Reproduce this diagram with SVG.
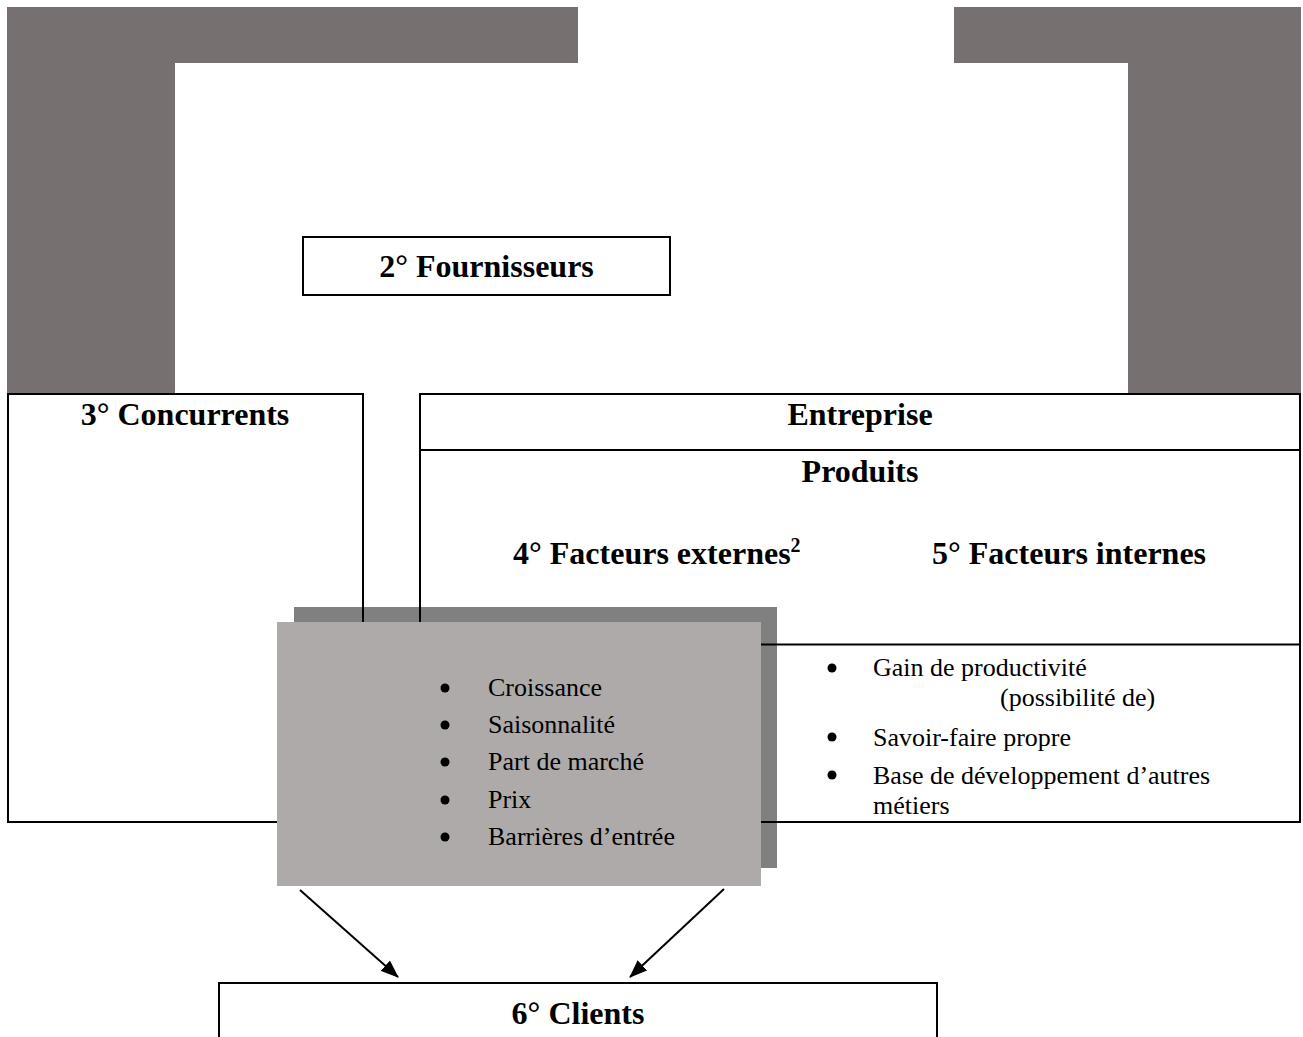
<svg xmlns="http://www.w3.org/2000/svg" width="1303" height="1037" viewBox="0 0 1303 1037">
  <style>
    .frame { fill: none; stroke: #000; stroke-width: 2; }
    .title { font-family: "Liberation Serif", "Times New Roman", serif; font-weight: bold; font-size: 32px; fill: #000; }
    .item { font-family: "Liberation Serif", "Times New Roman", serif; font-size: 26px; fill: #000; }
    .band { fill: #767170; }
    .conn { stroke: #000; stroke-width: 2; fill: none; }
  </style>
  <defs>
    <marker id="arrow" viewBox="0 0 18 14" refX="17" refY="7" markerWidth="18" markerHeight="14" markerUnits="userSpaceOnUse" orient="auto">
      <path d="M0,0 L18,7 L0,14 z" fill="#000"/>
    </marker>
  </defs>
  <rect width="1303" height="1037" fill="#fff"/>

  <!-- dark frame around the supplier zone -->
  <g id="supplier-frame">
    <path class="band" d="M7,7 H578 V63 H175 V393 H7 Z"/>
    <path class="band" d="M954,7 H1301 V393 H1128 V63 H954 Z"/>
  </g>

  <g id="fournisseurs">
    <rect class="frame" x="303" y="237" width="367" height="58"/>
    <text class="title" x="486.5" y="277" text-anchor="middle">2° Fournisseurs</text>
  </g>

  <!-- shadow of the external-factors card sits under the boxes' outlines -->
  <rect id="facteurs-shadow" x="294" y="607" width="483" height="261" fill="#808080"/>

  <g id="concurrents">
    <rect class="frame" x="8" y="394" width="355" height="428"/>
    <text class="title" x="185" y="425" text-anchor="middle">3° Concurrents</text>
  </g>

  <g id="entreprise">
    <rect class="frame" x="420" y="394" width="880" height="428"/>
    <line class="frame" x1="420" y1="450" x2="1300" y2="450"/>
    <line class="frame" x1="420" y1="644.5" x2="1300" y2="644.5"/>
    <text class="title" x="860" y="425" text-anchor="middle">Entreprise</text>
    <text class="title" x="860" y="482" text-anchor="middle">Produits</text>
    <text class="title" x="513" y="564">4° Facteurs externes<tspan font-size="20" dy="-12">2</tspan></text>
    <text class="title" x="932" y="564">5° Facteurs internes</text>
    <g class="item">
      <circle cx="832" cy="668" r="4.5"/>
      <text x="873" y="676">Gain de productivité</text>
      <text x="1000" y="706">(possibilité de)</text>
      <circle cx="832" cy="737" r="4.5"/>
      <text x="873" y="746">Savoir-faire propre</text>
      <circle cx="832" cy="775" r="4.5"/>
      <text x="873" y="784">Base de développement d’autres</text>
      <text x="873" y="814">métiers</text>
    </g>
  </g>

  <g id="facteurs-externes">
    <rect x="277" y="622" width="484" height="264" fill="#aeaaaa"/>
    <g class="item">
      <circle cx="445" cy="688" r="4.5"/>
      <text x="488" y="696">Croissance</text>
      <circle cx="445" cy="725" r="4.5"/>
      <text x="488" y="733">Saisonnalité</text>
      <circle cx="445" cy="762" r="4.5"/>
      <text x="488" y="770">Part de marché</text>
      <circle cx="445" cy="800" r="4.5"/>
      <text x="488" y="808">Prix</text>
      <circle cx="445" cy="837" r="4.5"/>
      <text x="488" y="845">Barrières d’entrée</text>
    </g>
  </g>

  <g id="connectors">
    <line class="conn" x1="300" y1="890" x2="398" y2="977" marker-end="url(#arrow)"/>
    <line class="conn" x1="724" y1="889" x2="630" y2="977" marker-end="url(#arrow)"/>
  </g>

  <g id="clients">
    <rect class="frame" x="219" y="983" width="718" height="70"/>
    <text class="title" x="578" y="1024" text-anchor="middle">6° Clients</text>
  </g>
</svg>
